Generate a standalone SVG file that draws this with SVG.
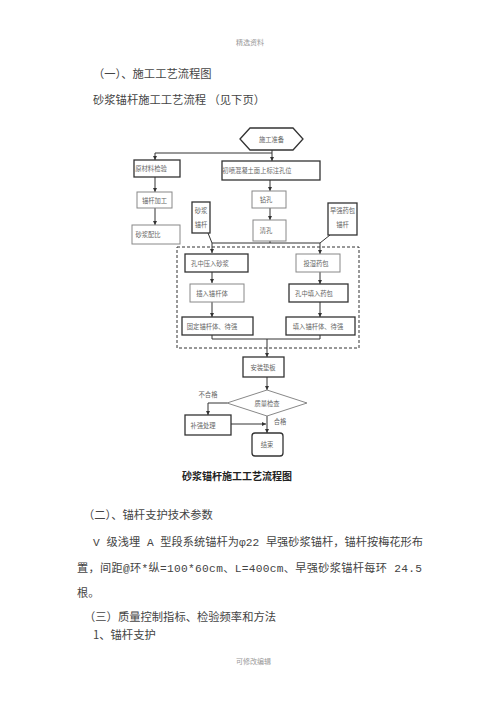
<svg xmlns="http://www.w3.org/2000/svg" width="500" height="707" viewBox="0 0 500 707">
<style>
.t{font-family:"Noto Sans CJK SC","Liberation Serif",sans-serif;fill:#444;font-size:11.3px}
.m{font-family:"Liberation Mono","Noto Sans CJK SC",monospace;fill:#444;font-size:11.2px}
.s{font-family:"Noto Sans CJK SC",sans-serif;fill:#999;font-size:7px}
.f{font-family:"Noto Sans CJK SC",sans-serif;fill:#666;font-size:6.3px;text-anchor:middle;dominant-baseline:central}
.b{fill:#fff;stroke:#333;stroke-width:1.3}
.g{fill:#fff;stroke:#888;stroke-width:1}
.c{fill:none;stroke:#333;stroke-width:1}
.cap{font-family:"Noto Sans CJK SC",sans-serif;fill:#222;font-size:10px;font-weight:bold}
</style>
<defs>
<marker id="a" viewBox="0 0 6 6" refX="6" refY="3" markerWidth="4" markerHeight="4" orient="auto"><path d="M0,0 L6,3 L0,6 z" fill="#333"/></marker>
</defs>
<rect width="500" height="707" fill="#fff"/>
<text class="s" x="236" y="44.5">精选资料</text>
<text class="t" x="93" y="78">（一）、施工工艺流程图</text>
<text class="t" x="93" y="104">砂浆锚杆施工工艺流程 （见下页）</text>

<g id="connectors">
<path class="c" d="M272,150 V161" marker-end="url(#a)"/>
<path class="c" d="M272,153 H155 V160" marker-end="url(#a)"/>
<path class="c" d="M155,177 V192" marker-end="url(#a)"/>
<path class="c" d="M155,208 V225" marker-end="url(#a)"/>
<path class="c" d="M270,180 V191" marker-end="url(#a)"/>
<path class="c" d="M270,208 V220" marker-end="url(#a)"/>
<path class="c" d="M212,243 H320"/>
<path class="c" d="M270,241 V243"/>
<path class="c" d="M208,233 L212,243 V253" marker-end="url(#a)"/>
<path class="c" d="M330,235 L320,243 V254" marker-end="url(#a)"/>
<path class="c" d="M212,272 V283" marker-end="url(#a)"/>
<path class="c" d="M212,302 V317" marker-end="url(#a)"/>
<path class="c" d="M320,272 V284" marker-end="url(#a)"/>
<path class="c" d="M320,302 V317" marker-end="url(#a)"/>
<path class="c" d="M212,335 V339 H320 V335"/>
<path class="c" d="M267,339 V357" marker-end="url(#a)"/>
<path class="c" d="M267,377 V390" marker-end="url(#a)"/>
<path class="c" d="M227,403 H208 V415" marker-end="url(#a)"/>
<path class="c" d="M231,424 H266" marker-end="url(#a)"/>
<path class="c" d="M267,416 V433" marker-end="url(#a)"/>
<rect x="177" y="247" width="182" height="101" fill="none" stroke="#333" stroke-width="1" stroke-dasharray="3,2"/>
</g>

<g id="n-start"><polygon class="b" points="240,139 250,128 293,128 303,139 293,150 250,150"/><text class="f" x="271.5" y="139">施工准备</text></g>
<g id="n-material"><rect class="b" x="134" y="160" width="46" height="17"/><text class="f" x="151" y="168.5">原材料检验</text></g>
<g id="n-mark"><rect class="b" x="222" y="161" width="98" height="19"/><text class="f" x="257" y="170.5">初喷混凝土面上标注孔位</text></g>
<g id="n-process"><rect class="g" x="137" y="192" width="35" height="16"/><text class="f" x="154.5" y="200">锚杆加工</text></g>
<g id="n-mix"><rect class="g" x="132" y="225" width="48" height="19"/><text class="f" x="148" y="234.5">砂浆配比</text></g>
<g id="n-mortar-bolt"><rect class="b" x="192" y="202" width="18" height="31"/><text class="f" x="201" y="210">砂浆</text><text class="f" x="201" y="224">锚杆</text></g>
<g id="n-drill"><rect class="g" x="252" y="191" width="34" height="17"/><text class="f" x="266" y="199.5">钻孔</text></g>
<g id="n-clean"><rect class="g" x="253" y="220" width="33" height="21"/><text class="f" x="266" y="230.5">清孔</text></g>
<g id="n-early-bolt"><rect class="b" x="328" y="203" width="29" height="32"/><text class="f" x="342.5" y="210">早强药包</text><text class="f" x="342.5" y="224">锚杆</text></g>
<g id="n-press"><rect class="b" x="185" y="254" width="63" height="18"/><text class="f" x="210" y="263">孔中压入砂浆</text></g>
<g id="n-insert"><rect class="g" x="190" y="284" width="54" height="18"/><text class="f" x="212" y="293">插入锚杆体</text></g>
<g id="n-fix"><rect class="b" x="182" y="317" width="71" height="18"/><text class="f" x="212" y="326">固定锚杆体、待强</text></g>
<g id="n-soak"><rect class="g" x="296" y="254" width="44" height="18"/><text class="f" x="316" y="263">投湿药包</text></g>
<g id="n-fill"><rect class="b" x="289" y="284" width="59" height="18"/><text class="f" x="314" y="293">孔中填入药包</text></g>
<g id="n-push"><rect class="b" x="286" y="317" width="69" height="18"/><text class="f" x="318" y="326">填入锚杆体、待强</text></g>
<g id="n-plate"><rect class="b" x="243" y="357" width="41" height="20"/><text class="f" x="263" y="367">安装垫板</text></g>
<g id="n-check"><polygon class="g" points="267,390 307,403 267,416 227,403"/><text class="f" x="267" y="403">质量检查</text></g>
<g id="n-reinforce"><rect class="b" x="185" y="415" width="46" height="20"/><text class="f" x="203" y="425">补强处理</text></g>
<g id="n-end"><rect class="b" x="252" y="433" width="31" height="23" rx="3"/><text class="f" x="267" y="444.5">结束</text></g>
<text class="f" x="208" y="394">不合格</text>
<text class="f" x="280" y="421">合格</text>

<text class="cap" x="182" y="480">砂浆锚杆施工工艺流程图</text>
<text class="t" x="83" y="519">（二）、锚杆支护技术参数</text>
<text class="m" x="93" y="546" textLength="330" lengthAdjust="spacing">V 级浅埋 A 型段系统锚杆为φ22 早强砂浆锚杆，锚杆按梅花形布</text>
<text class="m" x="77" y="572" textLength="345" lengthAdjust="spacing">置，间距@环*纵=100*60cm、L=400cm、早强砂浆锚杆每环 24.5</text>
<text class="m" x="77" y="597">根。</text>
<text class="t" x="84" y="621">（三）质量控制指标、检验频率和方法</text>
<text class="t" x="93" y="639">1、锚杆支护</text>
<text class="s" x="236" y="663.5">可修改编辑</text>
</svg>
